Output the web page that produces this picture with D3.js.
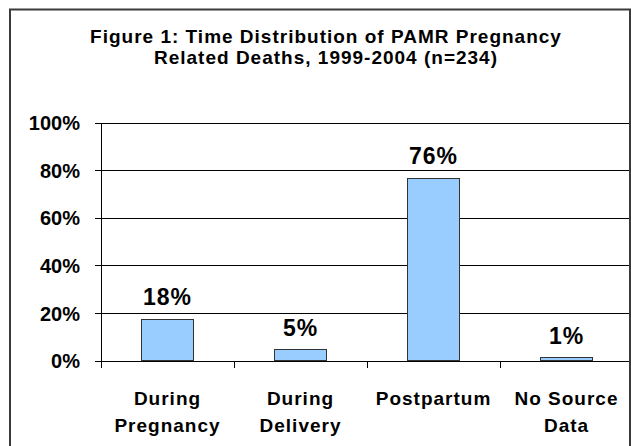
<!DOCTYPE html>
<html lang="en">
<head>
	<meta charset="UTF-8">
	<title>Figure 1: Time Distribution of PAMR Pregnancy Related Deaths</title>
	<script src="https://cdn.jsdelivr.net/npm/d3@7"></script>
	<style>
		body{
			margin: 0;
			background: #fff;
		}

		text{
			font-family: "Liberation Sans", Arial, sans-serif;
			font-weight: bold;
			fill: #000;
		}

		.title{
			font-size: 19px;
			letter-spacing: 1px;
		}

		.y.axis text{
			font-size: 20px;
		}

		.y.axis path.domain,
		.y.axis .tick line,
		.grid line,
		.xticks line{
			stroke: #000;
			shape-rendering: crispEdges;
		}

		.catLabel{
			font-size: 19px;
			letter-spacing: 1px;
		}

		.valueLabel{
			font-size: 23px;
			letter-spacing: 1px;
		}

		.bar{
			fill: #99ccff;
			stroke: #333;
			stroke-width: 1;
			shape-rendering: crispEdges;
		}

		.frame{
			fill: none;
			stroke: #3a3a3a;
			stroke-width: 2;
		}
	</style>
</head>
<body>
	<div id=main></div>

	<script type="text/javascript">
		// values (41, 11, 179 and 3 of 234 deaths)
		var categories = ["During Pregnancy", "During Delivery", "Postpartum", "No Source Data"];
		var categoryLines = [["During", "Pregnancy"], ["During", "Delivery"], ["Postpartum"], ["No Source", "Data"]];
		var shares = [0.175, 0.047, 0.765, 0.013];
		var shareLabels = ["18%", "5%", "76%", "1%"];
		var yTicks = [0, 0.2, 0.4, 0.6, 0.8, 1];
		var titleLines = ["Figure 1: Time Distribution of PAMR Pregnancy", "Related Deaths, 1999-2004 (n=234)"];

		var width = 631,
			height = 446,
			plot = {left: 101, right: 633, top: 122.5, bottom: 360.7},
			clipRight = 629;

		var svg = d3.select("#main").append("svg")
			.attr("width", width)
			.attr("height", height)
			.style("display", "block");

		var xScale = d3.scaleBand()
			.domain(categories)
			.range([plot.left, plot.right])
			.paddingInner(0.605)
			.paddingOuter(0.3025);

		var yScale = d3.scaleLinear()
			.domain([0, 1])
			.range([plot.bottom, plot.top]);

		// outer frame (bottom edge runs off the picture)
		svg.append("rect")
			.attr("class", "frame")
			.attr("x", 10)
			.attr("y", 9.5)
			.attr("width", 620)
			.attr("height", 460);

		svg.append("g")
			.selectAll("text")
			.data(titleLines)
			.enter()
			.append("text")
			.attr("class", "title")
			.attr("x", 326)
			.attr("y", function(d, i){return 43 + i*21})
			.attr("text-anchor", "middle")
			.text(function(d){return d});

		// gridlines
		svg.append("g")
			.attr("class", "grid")
			.selectAll("line")
			.data(yTicks)
			.enter()
			.append("line")
			.attr("x1", plot.left)
			.attr("x2", clipRight)
			.attr("y1", function(d){return Math.round(yScale(d)) + 0.5})
			.attr("y2", function(d){return Math.round(yScale(d)) + 0.5});

		var yAx = d3.axisLeft(yScale)
			.tickValues(yTicks)
			.tickSize(6)
			.tickSizeOuter(0)
			.tickPadding(15)
			.tickFormat(d3.format(".0%"));

		var yAxis = svg.append("g")
			.attr("class", "y axis")
			.attr("transform", "translate(" + plot.left + ",0)")
			.call(yAx);

		yAxis.selectAll("text").attr("dy", "0.36em");

		// category separators below the baseline
		svg.append("g")
			.attr("class", "xticks")
			.selectAll("line")
			.data(categories)
			.enter()
			.append("line")
			.attr("x1", function(d){return Math.round(xScale(d) - xScale.step()*xScale.paddingOuter()) + 0.5})
			.attr("x2", function(d){return Math.round(xScale(d) - xScale.step()*xScale.paddingOuter()) + 0.5})
			.attr("y1", plot.bottom)
			.attr("y2", plot.bottom + 7);

		svg.append("g")
			.selectAll("rect")
			.data(shares)
			.enter()
			.append("rect")
			.attr("class", "bar")
			.attr("x", function(d, i){return xScale(categories[i])})
			.attr("width", xScale.bandwidth())
			.attr("y", function(d){return yScale(d)})
			.attr("height", function(d){return yScale(0) - yScale(d)});

		svg.append("g")
			.selectAll("text")
			.data(shareLabels)
			.enter()
			.append("text")
			.attr("class", "valueLabel")
			.attr("x", function(d, i){return xScale(categories[i]) + xScale.bandwidth()/2})
			.attr("y", function(d, i){return yScale(shares[i]) - 14})
			.attr("text-anchor", "middle")
			.text(function(d){return d});

		var catLabels = svg.append("g")
			.selectAll("text")
			.data(categoryLines)
			.enter()
			.append("text")
			.attr("class", "catLabel")
			.attr("text-anchor", "middle")
			.attr("transform", function(d, i){
				return "translate(" + (xScale(categories[i]) + xScale.bandwidth()/2) + ",405)";
			});

		catLabels.selectAll("tspan")
			.data(function(d){return d})
			.enter()
			.append("tspan")
			.attr("x", 0)
			.attr("y", function(d, i){return i*27})
			.text(function(d){return d});
	</script>
</body>
</html>
